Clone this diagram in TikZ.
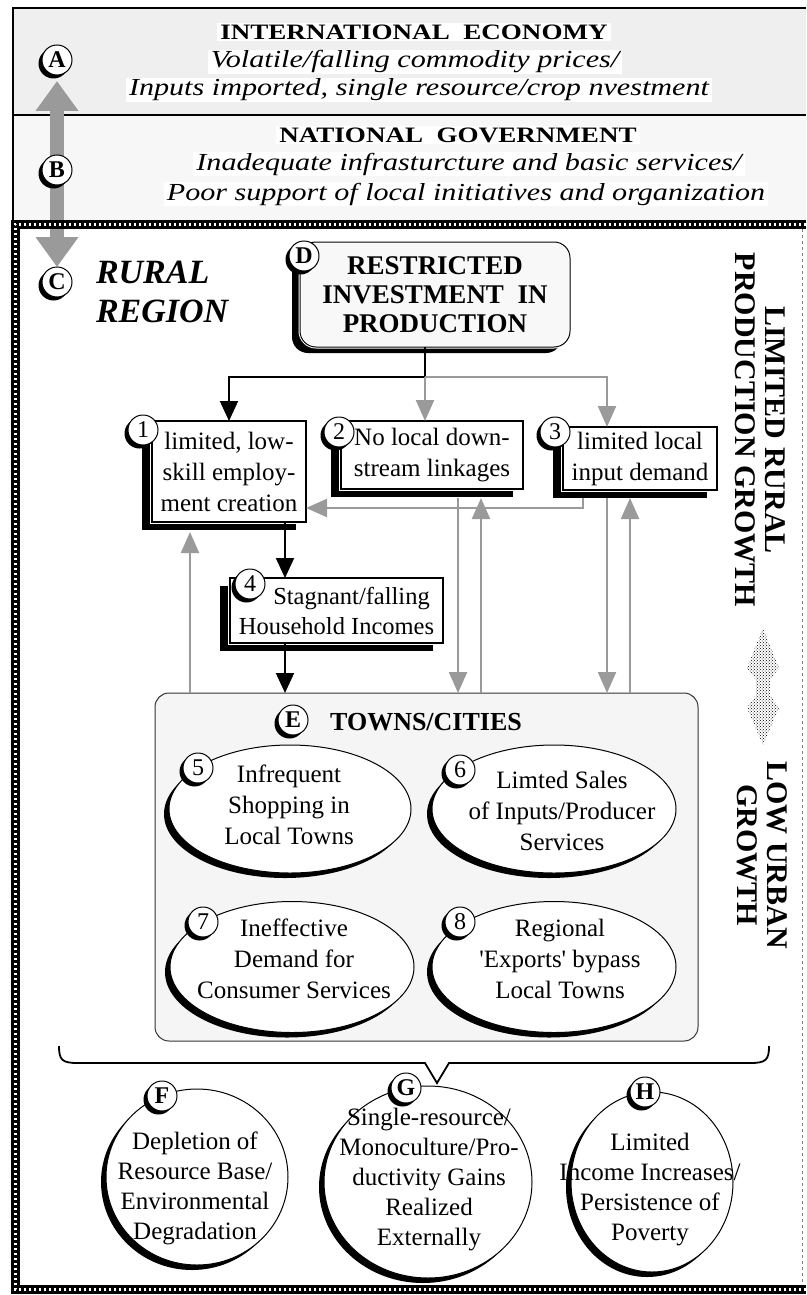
\documentclass[tikz,border=0pt]{standalone}
\usepackage{fontspec}
\setmainfont{Liberation Serif}
\newfontfamily\wideserif[FakeStretch=1.23]{Liberation Serif}
\usetikzlibrary{arrows.meta,shadows,calc,patterns,shapes.geometric}

\pgfdeclarelayer{bands}
\pgfdeclarelayer{links}
\pgfsetlayers{bands,links,main}

\newcommand\fs[2]{\fontsize{#1}{#2}\selectfont}

\definecolor{bandA}{HTML}{EFEFEF}
\definecolor{bandB}{HTML}{F7F7F7}
\definecolor{linkgray}{HTML}{9A9A9A}
\definecolor{panel}{HTML}{F5F5F5}
\definecolor{dfill}{HTML}{F8F8F8}

\begin{document}
\begin{tikzpicture}[x=1pt,y=-1pt,
  every node/.style={inner sep=0pt,outer sep=0pt},
  bandtitle/.style={fill=white,inner xsep=3pt,inner ysep=2pt,font=\wideserif\fs{22}{24}\bfseries},
  bandline/.style={fill=white,inner xsep=3pt,inner ysep=1pt,font=\wideserif\fs{24.5}{27}\itshape},
  ball/.style={circle,draw=black,line width=1pt,fill=white,minimum size=30pt,
    font=\fs{24}{24}\bfseries,
    drop shadow={shadow xshift=-3.5pt,shadow yshift=-3.5pt,fill=black,opacity=1}},
  numball/.style={ball,font=\fs{24}{24}},
  causebox/.style={rectangle,fill=white,draw=white,line width=4pt,
    postaction={draw=black,line width=1.3pt},align=center,font=\fs{25}{31},
    drop shadow={shadow xshift=-10pt,shadow yshift=-8pt,fill=black,opacity=1}},
  townell/.style={ellipse,draw=black,line width=1pt,fill=white,
    drop shadow={shadow xshift=-5pt,shadow yshift=-5pt,fill=black,opacity=1}},
  elltext/.style={align=center,font=\fs{25}{31}},
  outell/.style={townell},
  outtext/.style={align=center,font=\fs{25}{30}},
  blink/.style={draw=black,line width=2pt,-{Triangle[width=18pt,length=20pt]}},
  glink/.style={draw=linkgray,line width=2.2pt,-{Triangle[width=18pt,length=21pt]}},
  bigarrow/.style={draw=linkgray,line width=14pt,
    {Triangle[width=41pt,length=30pt]}-{Triangle[width=41pt,length=30pt]}},
  hatchline/.style={draw=black,line width=9pt,
    postaction={draw=white,line width=3pt,dash pattern=on 2pt off 3pt}},
  sidetext/.style={rotate=-90,align=center,font=\fs{30}{30}\bfseries}
]
\useasboundingbox (0,0) rectangle (806,1295);

% ---- outer bands: international economy and national government ----
\begin{pgfonlayer}{bands}
  \fill[bandA] (13,8) rectangle (806,115);
  \fill[bandB] (13,115) rectangle (806,222);
  \draw[line width=1.5pt] (806,8) -- (13,8) -- (13,222);
  \draw[line width=1.5pt] (13,115) -- (806,115);
\end{pgfonlayer}

\node[bandtitle] (ie1) at (414,32) {INTERNATIONAL\ \ ECONOMY};
\node[bandline] (ie2) at (415,62) {Volatile/falling commodity prices/};
\node[bandline] (ie3) at (419,90) {Inputs imported, single resource/crop nvestment};
\node[bandtitle] (ng1) at (458,135) {NATIONAL\ \ GOVERNMENT};
\node[bandline] (ng2) at (469,164) {Inadequate infrasturcture and basic services/};
\node[bandline] (ng3) at (466,194) {Poor support of local initiatives and organization};

% ---- rural region frame ----
\draw[hatchline] (806,224) -- (15,224) -- (15,1289) -- (806,1289);
\draw[gray,dashed,line width=0.8pt] (802,229) -- (802,1284);

% ---- level markers and the linking arrow ----
\node[ball] (A) at (57,60) {A};
\node[ball] (B) at (57,170) {B};
\node[ball] (C) at (57,282) {C};
\begin{pgfonlayer}{links}
  \draw[bigarrow,shorten <=6pt] (A.south) -- (C.north);
\end{pgfonlayer}

\node[align=left,anchor=west,font=\fs{34}{39}\bfseries\itshape] (rr) at (96,292) {RURAL\\REGION};

% ---- restricted investment ----
\node[rectangle,rounded corners=16pt,minimum width=270pt,minimum height=105pt,
  fill=dfill,draw=white,line width=3pt,postaction={draw=black,line width=1pt},
  align=center,font=\fs{27}{29}\bfseries,
  drop shadow={shadow xshift=-8pt,shadow yshift=-6pt,fill=black,opacity=1}]
  (D) at (435,294.5) {RESTRICTED\\INVESTMENT\ \ IN\\PRODUCTION};
\node[ball] (Dl) at (304,256) {D};

% ---- rural production effects ----
\node[causebox,minimum width=154pt,minimum height=101pt] (b1) at (229,471.5)
  {limited, low-\\skill employ-\\ment creation};
\node[causebox,minimum width=182pt,minimum height=68pt] (b2) at (432,455)
  {No local down-\\stream linkages};
\node[causebox,minimum width=154pt,minimum height=63pt] (b3) at (640,458.5)
  {limited local\\input demand};
\node[causebox,minimum width=213pt,minimum height=65pt,font=\fs{24.5}{30}] (b4) at (336.5,610.5)
  {\hspace*{30pt}Stagnant/falling\\Household Incomes};
\node[numball] (n1) at (143,430) {1};
\node[numball] (n2) at (339,432) {2};
\node[numball] (n3) at (555,432) {3};
\node[numball] (n4) at (250,584) {4};

% ---- towns and cities ----
\node[rectangle,rounded corners=14pt,minimum width=543pt,minimum height=348pt,
  fill=panel,draw=black!80,line width=1pt] (E) at (426.5,867) {};
\node[ball] (El) at (293,720) {E};
\node[font=\fs{26}{26}\bfseries] (Et) at (426,722) {TOWNS/CITIES};

\node[townell,minimum width=242pt,minimum height=128pt] (e5) at (290,809) {};
\node[townell,minimum width=244pt,minimum height=128pt] (e6) at (554,809) {};
\node[townell,minimum width=244pt,minimum height=131pt] (e7) at (292,967) {};
\node[townell,minimum width=244pt,minimum height=131pt] (e8) at (554,967) {};
\node[elltext] (t5) at (289,805) {Infrequent\\Shopping in\\Local Towns};
\node[elltext] (t6) at (562,811) {Limted Sales\\of Inputs/Producer\\Services};
\node[elltext] (t7) at (294,959) {Ineffective\\Demand for\\Consumer Services};
\node[elltext] (t8) at (560,959) {Regional\\\textquotesingle Exports\textquotesingle\ bypass\\Local Towns};
\node[numball] (n5) at (198,768) {5};
\node[numball] (n6) at (460,770) {6};
\node[numball] (n7) at (203,922) {7};
\node[numball] (n8) at (460,922) {8};

% ---- connectors ----
\coordinate (dj) at (425,377);
\coordinate (d3) at (607,377);
\coordinate (v4) at (285,600);
\coordinate (u1) at (190,600);
\coordinate (u2a) at (458,600);
\coordinate (u2b) at (481,600);
\coordinate (u3a) at (607,600);
\coordinate (u3b) at (630,600);
\coordinate (k3) at (583,508);

\draw[blink] (dj |- D.south) -- (dj) -| (b1.north);
\draw[glink] (dj) -- (dj |- b2.north);
\draw[glink] (dj) -- (d3) -- (d3 |- b3.north);
\draw[blink] (v4 |- b1.south) -- (v4 |- b4.north);
\draw[blink] (v4 |- b4.south) -- (v4 |- E.north);
\draw[glink] (u1 |- E.north) -- ($(u1 |- b1.south)+(0,10)$);
\draw[glink] ($(u2a |- b2.south)+(0,9)$) -- (u2a |- E.north);
\draw[glink] (u2b |- E.north) -- ($(u2b |- b2.south)+(0,9)$);
\draw[glink] ($(u3a |- b3.south)+(0,8)$) -- (u3a |- E.north);
\draw[glink] (u3b |- E.north) -- ($(u3b |- b3.south)+(0,8)$);
\draw[glink] ($(k3 |- b3.south)+(0,8)$) -- (k3) -- (k3 -| b1.east);

% ---- side captions ----
\node[sidetext] (lr) at (760,430) {LIMITED RURAL\\PRODUCTION GROWTH};
\node[sidetext] (lu) at (762,855) {LOW URBAN\\GROWTH};
\fill[pattern=crosshatch dots,pattern color=black]
  (763,628) -- (779,668) -- (770,680) -- (770,695) -- (779,708) -- (763,745)
  -- (747,708) -- (756,695) -- (756,680) -- (747,668) -- cycle;

% ---- brace gathering the town effects ----
\draw[line width=1.8pt,line join=miter]
  (59,1046) .. controls (59,1060) and (62,1063) .. (78,1063) -- (425,1063)
  -- (437,1083) -- (449,1063) -- (750,1063)
  .. controls (766,1063) and (769,1060) .. (769,1046);

% ---- regional outcomes ----
\node[outell,minimum width=182pt,minimum height=176pt] (F) at (197,1177) {};
\node[outell,minimum width=208pt,minimum height=192pt] (G) at (428,1182) {};
\node[outell,minimum width=162pt,minimum height=180pt] (H) at (652,1182) {};
\node[outtext] (tF) at (195,1188) {Depletion of\\Resource Base/\\Environmental\\Degradation};
\node[outtext] (tG) at (429,1180) {Single-resource/\\Monoculture/Pro-\\ductivity Gains\\Realized\\Externally};
\node[outtext] (tH) at (650,1190) {Limited\\Income Increases/\\Persistence of\\Poverty};
\node[ball] (Fl) at (162,1096) {F};
\node[ball] (Gl) at (406,1088) {G};
\node[ball] (Hl) at (645,1092) {H};
\end{tikzpicture}
\end{document}
